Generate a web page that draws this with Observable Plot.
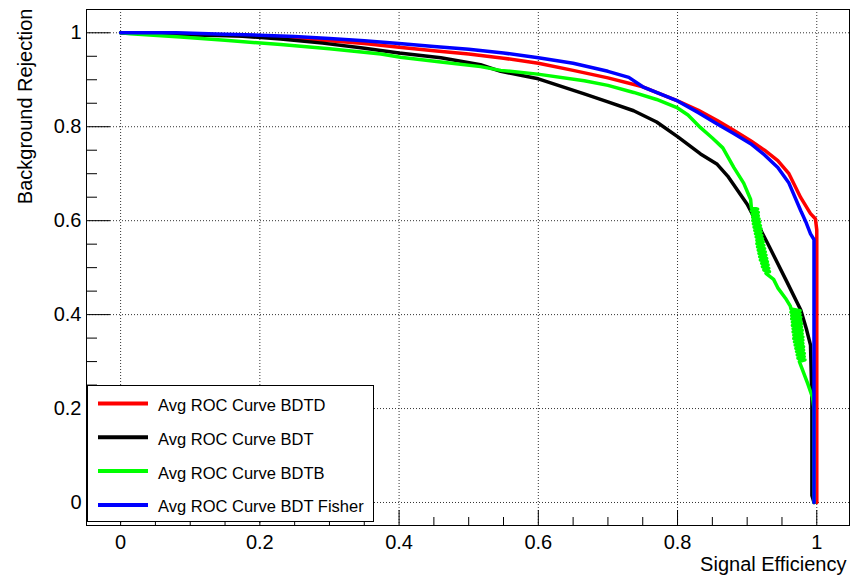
<!DOCTYPE html>
<html><head><meta charset="utf-8">
<script src="https://cdn.jsdelivr.net/npm/d3@7"></script>
<script src="https://cdn.jsdelivr.net/npm/@observablehq/plot@0.6"></script>
<style>
html,body{margin:0;padding:0;background:#fff;}
#wrap{position:relative;width:852px;height:577px;font-family:"Liberation Sans",Arial,Helvetica,sans-serif;}
#legend{position:absolute;left:87px;top:385px;width:285px;height:135px;border:1px solid #000;background:#fff;}
#legend svg{display:block;}
</style></head><body><div id="wrap"></div>
<script>
const seriesNames = ["Avg ROC Curve BDTD", "Avg ROC Curve BDT", "Avg ROC Curve BDTB", "Avg ROC Curve BDT Fisher"];
const seriesColors = ["#ff0000", "#000000", "#00ff00", "#0000ff"];

const bdtdX = [0, 0.1, 0.2, 0.25, 0.3, 0.35, 0.4, 0.45, 0.5, 0.55, 0.6, 0.65, 0.7, 0.75, 0.8, 0.83, 0.857, 0.88, 0.905, 0.925, 0.944, 0.96, 0.977, 0.991, 0.998, 1.0, 1.0];
const bdtdY = [1, 0.998, 0.992, 0.988, 0.983, 0.977, 0.969, 0.962, 0.955, 0.946, 0.935, 0.92, 0.904, 0.885, 0.855, 0.835, 0.813, 0.793, 0.77, 0.75, 0.728, 0.70, 0.649, 0.615, 0.604, 0.58, 0];

const bdtX = [0, 0.09, 0.17, 0.23, 0.29, 0.345, 0.4, 0.46, 0.517, 0.546, 0.6, 0.666, 0.7, 0.737, 0.77, 0.8, 0.833, 0.857, 0.872, 0.9, 0.929, 0.958, 0.977, 0.985, 0.991, 0.993, 0.993, 0.996];
const bdtY = [1, 0.996, 0.993, 0.987, 0.978, 0.968, 0.957, 0.947, 0.932, 0.918, 0.902, 0.87, 0.853, 0.834, 0.81, 0.779, 0.742, 0.72, 0.695, 0.635, 0.553, 0.467, 0.41, 0.37, 0.335, 0.22, 0.015, 0];

const bdtbX = [0, 0.014, 0.086, 0.15, 0.23, 0.3, 0.374, 0.402, 0.46, 0.517, 0.546, 0.599, 0.666, 0.7, 0.737, 0.77, 0.8, 0.815, 0.833, 0.85, 0.865, 0.881, 0.895, 0.905,
  0.906, 0.915, 0.906, 0.916, 0.907, 0.916, 0.908, 0.917, 0.908, 0.918, 0.909, 0.919, 0.910, 0.920, 0.911, 0.920, 0.912, 0.921, 0.913, 0.922, 0.914, 0.923, 0.914, 0.924, 0.915, 0.925, 0.916, 0.926, 0.917, 0.927, 0.918, 0.928, 0.919, 0.929, 0.921, 0.930, 0.922, 0.931, 0.924, 0.932, 0.927,
  0.938, 0.944, 0.955, 0.962,
  0.963, 0.976, 0.963, 0.976, 0.964, 0.977, 0.964, 0.977, 0.965, 0.978, 0.965, 0.978, 0.966, 0.979, 0.966, 0.979, 0.967, 0.980, 0.967, 0.980, 0.968, 0.980, 0.969, 0.981, 0.970, 0.981, 0.971, 0.982, 0.972, 0.982, 0.973, 0.983, 0.975,
  0.987, 0.994, 0.996, 0.996];
const bdtbY = [1, 0.998, 0.991, 0.984, 0.975, 0.966, 0.955, 0.948, 0.938, 0.928, 0.92, 0.912, 0.898, 0.888, 0.873, 0.858, 0.84, 0.825, 0.798, 0.776, 0.755, 0.713, 0.68, 0.645,
  0.628, 0.6245, 0.621, 0.6175, 0.614, 0.6105, 0.607, 0.6035, 0.600, 0.5965, 0.593, 0.5895, 0.586, 0.5825, 0.579, 0.5755, 0.572, 0.5685, 0.565, 0.5615, 0.558, 0.5545, 0.551, 0.5475, 0.544, 0.5405, 0.537, 0.5335, 0.530, 0.5265, 0.523, 0.5195, 0.516, 0.5125, 0.509, 0.5055, 0.502, 0.4985, 0.495, 0.4915, 0.488,
  0.475, 0.457, 0.435, 0.418,
  0.412, 0.4085, 0.405, 0.4015, 0.398, 0.3945, 0.391, 0.3875, 0.384, 0.3805, 0.377, 0.3735, 0.370, 0.3665, 0.363, 0.3595, 0.356, 0.3525, 0.349, 0.3455, 0.342, 0.3385, 0.335, 0.3315, 0.328, 0.3245, 0.321, 0.3175, 0.314, 0.3105, 0.307, 0.3035, 0.300,
  0.253, 0.223, 0.2, 0];

const fisherX = [0, 0.08, 0.15, 0.2, 0.25, 0.3, 0.35, 0.4, 0.45, 0.5, 0.55, 0.6, 0.65, 0.7, 0.73, 0.75, 0.8, 0.83, 0.857, 0.88, 0.905, 0.925, 0.944, 0.96, 0.977, 0.985, 0.991, 0.996, 0.996];
const fisherY = [1, 1, 0.997, 0.995, 0.992, 0.988, 0.983, 0.977, 0.971, 0.965, 0.957, 0.947, 0.935, 0.918, 0.905, 0.885, 0.855, 0.83, 0.806, 0.786, 0.764, 0.74, 0.713, 0.68, 0.621, 0.595, 0.572, 0.56, 0];

const xMajor = [0, 0.2, 0.4, 0.6, 0.8, 1];
const yMajor = [0, 0.2, 0.4, 0.6, 0.8, 1];
const xMinor = [0.05, 0.1, 0.15, 0.25, 0.3, 0.35, 0.45, 0.5, 0.55, 0.65, 0.7, 0.75, 0.85, 0.9, 0.95];
const yMinor = [0.05, 0.1, 0.15, 0.25, 0.3, 0.35, 0.45, 0.5, 0.55, 0.65, 0.7, 0.75, 0.85, 0.9, 0.95];

const rows = (xs, ys) => xs.map((x, i) => ({x, y: ys[i]}));
const curves = [rows(bdtdX, bdtdY), rows(bdtX, bdtY), rows(bdtbX, bdtbY), rows(fisherX, fisherY)];

const W = 852, H = 577, mL = 86, mR = 3, mT = 9, mB = 52;
const fw = W - mL - mR, fh = H - mT - mB;
const font = "'Liberation Sans', Arial, Helvetica, sans-serif";
const gridStyle = {stroke: "#333", strokeOpacity: 1, strokeDasharray: "1,2"};

const chart = Plot.plot({
  width: W, height: H,
  marginLeft: mL, marginRight: mR, marginTop: mT, marginBottom: mB,
  style: {fontFamily: font, fontSize: "20px", background: "#fff", color: "#000"},
  x: {domain: [-0.049, 1.047]},
  y: {domain: [-0.049, 1.0496]},
  marks: [
    Plot.gridX({ticks: xMajor, ...gridStyle}),
    Plot.gridY({ticks: yMajor, ...gridStyle}),
    ...curves.map((c, i) => Plot.line(c, {x: "x", y: "y", stroke: seriesColors[i], strokeWidth: 3.5, strokeLinejoin: "round"})),
    Plot.tickX(xMinor, {x: d => d, insetTop: fh - 8, stroke: "#000"}),
    Plot.tickX(xMajor, {x: d => d, insetTop: fh - 15, stroke: "#000"}),
    Plot.tickY(yMinor, {y: d => d, insetRight: fw - 11, stroke: "#000"}),
    Plot.tickY(yMajor, {y: d => d, insetRight: fw - 24, stroke: "#000"}),
    Plot.frame({stroke: "#000"}),
    Plot.axisX({ticks: xMajor, tickSize: 0, tickPadding: 9, fontSize: 20, label: null, tickFormat: d => String(d)}),
    Plot.axisY({ticks: yMajor, tickSize: 0, tickPadding: 5, fontSize: 20, label: null, tickFormat: d => String(d)}),
    Plot.text(["Signal Efficiency"], {text: d => d, frameAnchor: "bottom-right", textAnchor: "end", lineAnchor: "bottom", dx: -3, dy: 45, fontSize: 20}),
    Plot.text(["Background Rejection"], {text: d => d, frameAnchor: "top-left", rotate: -90, textAnchor: "end", lineAnchor: "middle", dx: -61, dy: -1, fontSize: 20})
  ]
});
const wrap = document.getElementById("wrap");
wrap.appendChild(chart);

const lg = d3.select(wrap).append("div").attr("id", "legend");
const ls = lg.append("svg").attr("width", 285).attr("height", 135).style("font-family", font);
seriesNames.forEach((n, i) => {
  const cy = 17.5 + i * 33.8;
  ls.append("line").attr("x1", 10).attr("x2", 60).attr("y1", cy).attr("y2", cy)
    .attr("stroke", seriesColors[i]).attr("stroke-width", 4);
  ls.append("text").attr("x", 70).attr("y", cy + 7.4).attr("font-size", 16.5).attr("fill", "#000").text(n);
});
</script>
</body></html>
